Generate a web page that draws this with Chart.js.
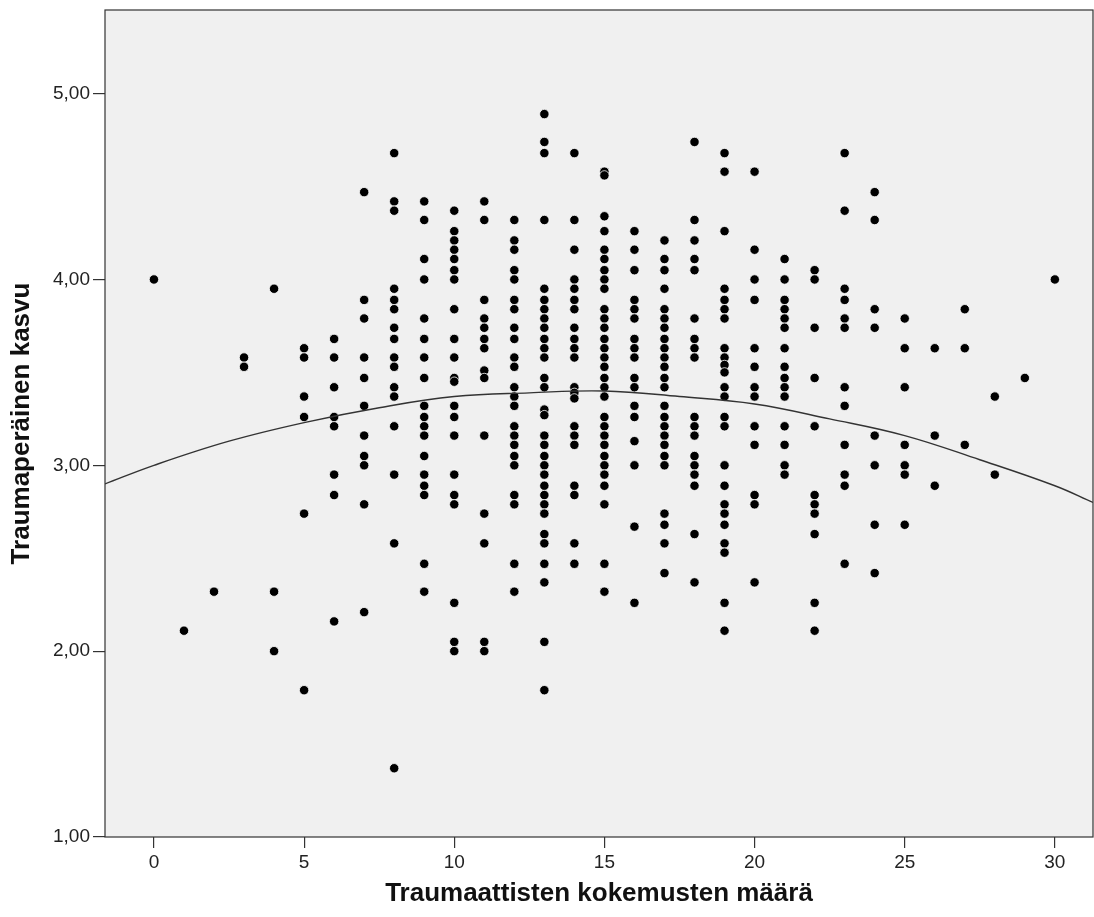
<!DOCTYPE html>
<html>
<head>
<meta charset="utf-8">
<script src="https://cdn.jsdelivr.net/npm/chart.js@4"></script>
<style>
  html, body { margin: 0; padding: 0; background: #fff; overflow: hidden; }
  canvas { display: block; }
</style>
</head>
<body>
<canvas id="chart" width="1094" height="917"></canvas>
<script>
// Traumaattisten kokemusten määrä (x) -> Traumaperäinen kasvu (y), one array per x value
const k0 = [4.00];
const k1 = [2.11];
const k2 = [2.32];
const k3 = [3.58, 3.53];
const k4 = [3.95, 2.32, 2.00];
const k5 = [3.63, 3.58, 3.37, 3.26, 2.74, 1.79];
const k6 = [3.68, 3.58, 3.42, 3.26, 3.21, 2.95, 2.84, 2.16];
const k7 = [4.47, 3.89, 3.79, 3.58, 3.47, 3.32, 3.16, 3.05, 3.00, 2.79, 2.21];
const k8 = [4.68, 4.42, 4.37, 3.95, 3.89, 3.84, 3.74, 3.68, 3.58, 3.53, 3.42, 3.37, 3.21, 2.95, 2.58, 1.37];
const k9 = [4.42, 4.32, 4.11, 4.00, 3.79, 3.68, 3.58, 3.47, 3.32, 3.26, 3.21, 3.16, 3.05, 2.95, 2.89, 2.84, 2.47, 2.32];
const k10 = [4.37, 4.26, 4.21, 4.16, 4.11, 4.05, 4.00, 3.84, 3.68, 3.58, 3.47, 3.45, 3.32, 3.26, 3.16, 2.95, 2.84, 2.79, 2.26, 2.05, 2.00];
const k11 = [4.42, 4.32, 3.89, 3.79, 3.74, 3.68, 3.63, 3.51, 3.47, 3.16, 2.74, 2.58, 2.05, 2.00];
const k12 = [4.32, 4.21, 4.16, 4.05, 4.00, 3.89, 3.84, 3.74, 3.68, 3.58, 3.53, 3.42, 3.37, 3.32, 3.21, 3.16, 3.11, 3.05, 3.00, 2.84, 2.79, 2.47, 2.32];
const k13 = [4.89, 4.74, 4.68, 4.32, 3.95, 3.89, 3.84, 3.79, 3.74, 3.68, 3.63, 3.58, 3.47, 3.42, 3.30, 3.27, 3.16, 3.11, 3.05, 3.00, 2.95, 2.89, 2.84, 2.79, 2.74, 2.63, 2.58, 2.47, 2.37, 2.05, 1.79];
const k14 = [4.68, 4.32, 4.16, 4.00, 3.95, 3.89, 3.84, 3.74, 3.68, 3.63, 3.58, 3.42, 3.39, 3.36, 3.21, 3.16, 3.11, 2.89, 2.84, 2.58, 2.47];
const k15 = [4.58, 4.56, 4.34, 4.26, 4.16, 4.11, 4.05, 4.00, 3.95, 3.84, 3.79, 3.74, 3.68, 3.63, 3.58, 3.53, 3.47, 3.42, 3.37, 3.26, 3.21, 3.16, 3.11, 3.05, 3.00, 2.95, 2.89, 2.79, 2.47, 2.32];
const k16 = [4.26, 4.16, 4.05, 3.89, 3.84, 3.79, 3.68, 3.63, 3.58, 3.47, 3.42, 3.32, 3.26, 3.13, 3.00, 2.67, 2.26];
const k17 = [4.21, 4.11, 4.05, 3.95, 3.84, 3.79, 3.74, 3.68, 3.63, 3.58, 3.53, 3.47, 3.42, 3.32, 3.26, 3.21, 3.16, 3.11, 3.05, 3.00, 2.74, 2.68, 2.58, 2.42];
const k18 = [4.74, 4.32, 4.21, 4.11, 4.05, 3.79, 3.68, 3.63, 3.58, 3.26, 3.21, 3.16, 3.05, 3.00, 2.95, 2.89, 2.63, 2.37];
const k19 = [4.68, 4.58, 4.26, 3.95, 3.89, 3.84, 3.79, 3.63, 3.58, 3.54, 3.50, 3.42, 3.37, 3.26, 3.21, 3.00, 2.89, 2.79, 2.74, 2.68, 2.58, 2.53, 2.26, 2.11];
const k20 = [4.58, 4.16, 4.00, 3.89, 3.63, 3.53, 3.42, 3.37, 3.21, 3.11, 2.84, 2.79, 2.37];
const k21 = [4.11, 4.00, 3.89, 3.84, 3.79, 3.74, 3.63, 3.53, 3.47, 3.42, 3.37, 3.21, 3.11, 3.00, 2.95];
const k22 = [4.05, 4.00, 3.74, 3.47, 3.21, 2.84, 2.79, 2.74, 2.63, 2.26, 2.11];
const k23 = [4.68, 4.37, 3.95, 3.89, 3.79, 3.74, 3.42, 3.32, 3.11, 2.95, 2.89, 2.47];
const k24 = [4.47, 4.32, 3.84, 3.74, 3.16, 3.00, 2.68, 2.42];
const k25 = [3.79, 3.63, 3.42, 3.11, 3.00, 2.95, 2.68];
const k26 = [3.63, 3.16, 2.89];
const k27 = [3.84, 3.63, 3.11];
const k28 = [3.37, 2.95];
const k29 = [3.47];
const k30 = [4.00];

const counts = [0, 1, 2, 3, 4, 5, 6, 7, 8, 9, 10, 11, 12, 13, 14, 15, 16, 17, 18, 19, 20, 21, 22, 23, 24, 25, 26, 27, 28, 29, 30];
const columns = [k0, k1, k2, k3, k4, k5, k6, k7, k8, k9, k10, k11, k12, k13, k14, k15, k16, k17, k18, k19, k20, k21, k22, k23, k24, k25, k26, k27, k28, k29, k30];

// fit curve
const fitX = [-1.63, 0, 2.5, 5, 7.5, 10, 12.5, 15, 17.5, 20, 22.5, 25, 27.5, 30, 31.27];
const fitY = [2.90, 3.00, 3.13, 3.23, 3.31, 3.37, 3.39, 3.40, 3.37, 3.33, 3.25, 3.16, 3.03, 2.89, 2.80];

const xTicks = [0, 5, 10, 15, 20, 25, 30];
const yTicks = [1, 2, 3, 4, 5];

const points = [];
columns.forEach((col, i) => {
    col.forEach(v => points.push({ x: counts[i], y: v }));
});
const fitLine = fitX.map((x, i) => ({ x: x, y: fitY[i] }));

// grey plot background and frame round the chart area
const plotFrame = {
    id: 'plotFrame',
    beforeDraw(chart) {
        const { ctx, chartArea: a } = chart;
        ctx.save();
        ctx.fillStyle = '#f0f0f0';
        ctx.fillRect(a.left, a.top, a.right - a.left, a.bottom - a.top);
        ctx.restore();
    },
    afterDraw(chart) {
        const { ctx, chartArea: a } = chart;
        ctx.save();
        ctx.strokeStyle = '#333';
        ctx.lineWidth = 1.2;
        ctx.strokeRect(a.left, a.top, a.right - a.left, a.bottom - a.top);
        ctx.restore();
    }
};

const ctx = document.getElementById('chart').getContext('2d');
const chart = new Chart(ctx, {
    type: 'scatter',
    data: {
        datasets: [{
            label: 'Sovitus',
            data: fitLine,
            showLine: true,
            borderColor: '#333',
            borderWidth: 1.4,
            pointRadius: 0,
            tension: 0.4,
            fill: false,
            order: 0
        }, {
            label: 'Havainnot',
            data: points,
            pointRadius: 4.7,
            pointBackgroundColor: '#000',
            pointBorderColor: '#fff',
            pointBorderWidth: 0.8,
            order: 1
        }]
    },
    options: {
        responsive: false,
        animation: false,
        devicePixelRatio: 1,
        layout: { autoPadding: false, padding: { top: 10, right: 1, left: 0, bottom: 0 } },
        plugins: {
            legend: { display: false },
            tooltip: { enabled: false }
        },
        scales: {
            x: {
                type: 'linear',
                min: -1.63,
                max: 31.27,
                afterFit(scale) {
                    scale.height = 80;
                    scale.paddingLeft = 0;
                    scale.paddingRight = 0;
                },
                afterBuildTicks(scale) {
                    scale.ticks = xTicks.map(v => ({ value: v }));
                },
                border: { display: false },
                grid: { drawOnChartArea: false, drawTicks: true, tickLength: 11, color: '#333', lineWidth: 1.2 },
                ticks: {
                    padding: 3,
                    color: '#222',
                    font: { family: 'Liberation Sans, Arial, sans-serif', size: 19 }
                },
                title: {
                    display: true,
                    text: 'Traumaattisten kokemusten määrä',
                    color: '#111',
                    font: { family: 'Liberation Sans, Arial, sans-serif', size: 26, weight: 'bold' },
                    padding: { top: 0, bottom: 8 }
                }
            },
            y: {
                type: 'linear',
                min: 1,
                max: 5.45,
                afterFit(scale) {
                    scale.width = 105;
                    scale.paddingTop = 0;
                    scale.paddingBottom = 0;
                },
                afterBuildTicks(scale) {
                    scale.ticks = yTicks.map(v => ({ value: v }));
                },
                border: { display: false },
                grid: { drawOnChartArea: false, drawTicks: true, tickLength: 12, color: '#333', lineWidth: 1.2 },
                ticks: {
                    padding: 3,
                    color: '#222',
                    font: { family: 'Liberation Sans, Arial, sans-serif', size: 19 },
                    callback: v => v.toFixed(2).replace('.', ',')
                },
                title: {
                    display: true,
                    text: 'Traumaperäinen kasvu',
                    color: '#111',
                    font: { family: 'Liberation Sans, Arial, sans-serif', size: 26, weight: 'bold' },
                    padding: { top: 6, bottom: 0 }
                }
            }
        }
    },
    plugins: [plotFrame]
});
</script>
</body>
</html>
